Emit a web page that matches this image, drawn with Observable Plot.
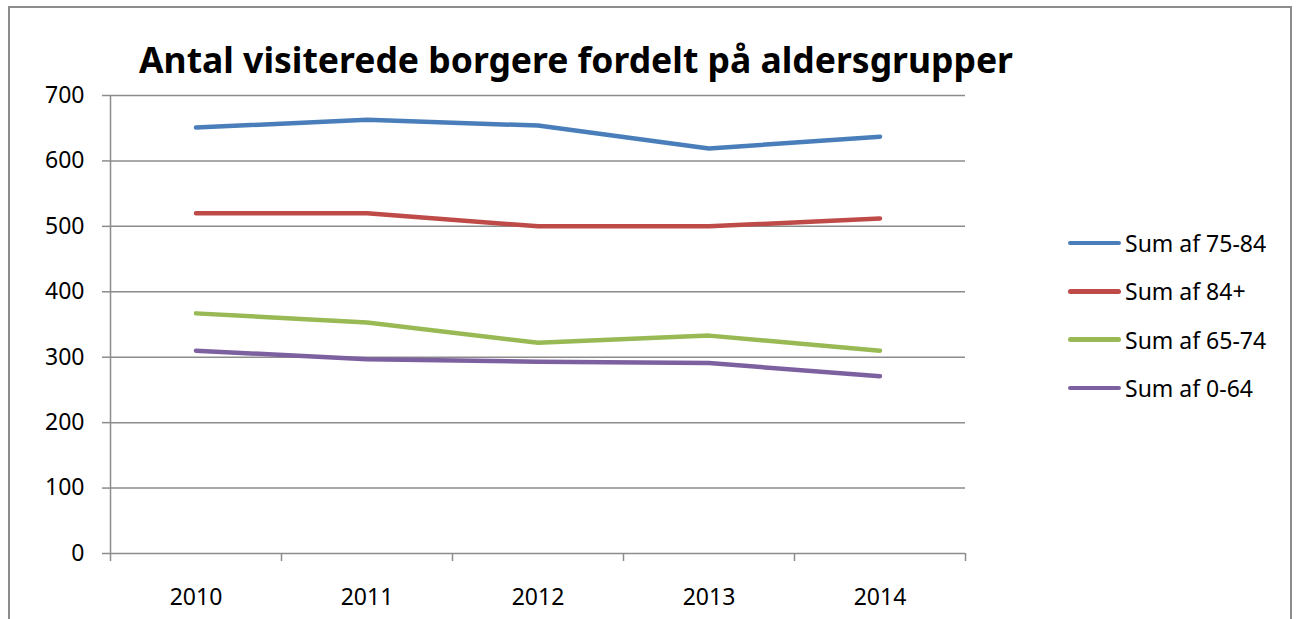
<!DOCTYPE html>
<html><head><meta charset="utf-8">
<script src="https://cdn.jsdelivr.net/npm/d3@7"></script>
<script src="https://cdn.jsdelivr.net/npm/@observablehq/plot@0.6"></script>
<style>
html,body{margin:0;padding:0;background:#fff;}
#wrap{position:relative;width:1302px;height:619px;overflow:hidden;font-family:"Noto Sans",sans-serif;}
#frame{position:absolute;left:8px;top:6px;width:1284px;height:640px;border:2px solid #8c8c8c;box-sizing:border-box;pointer-events:none;}
#title{position:absolute;left:139px;top:41.5px;font-size:35.5px;font-weight:bold;color:#000;white-space:nowrap;line-height:1;}
#legend{position:absolute;left:1068px;top:219px;font-size:23px;color:#000;}
.li{display:flex;align-items:center;height:48.3px;}
.sw{width:53px;height:4.5px;border-radius:2.5px;margin-right:4px;}
#chart{position:absolute;left:0;top:0;}
</style></head>
<body><div id="wrap"><div id="chart"></div><div id="title">Antal visiterede borgere fordelt på aldersgrupper</div><div id="legend"></div><div id="frame"></div></div>
<script>
const years = [2010, 2011, 2012, 2013, 2014];
const seriesNames = ["Sum af 75-84", "Sum af 84+", "Sum af 65-74", "Sum af 0-64"];
const colors = ["#4a7ebb", "#be4b48", "#98b954", "#7d60a0"];
const v7584 = [651, 663, 654, 619, 637];
const v84 = [520, 520, 500, 500, 512];
const v6574 = [367, 353, 322, 333, 310];
const v064 = [310, 297, 293, 291, 271];
const yTicks = [0, 100, 200, 300, 400, 500, 600, 700];

const allValues = [v7584, v84, v6574, v064];
const data = [];
seriesNames.forEach((s, i) => years.forEach((yr, j) => data.push({series: s, year: yr, value: allValues[i][j]})));
const bounds = years.map(y => y - 0.5).concat([years[years.length - 1] + 0.5]);

const chart = Plot.plot({
  width: 1302, height: 619,
  marginLeft: 110, marginRight: 337, marginTop: 95, marginBottom: 66,
  style: {fontFamily: '"Noto Sans", sans-serif', fontSize: "23px", color: "#000", background: "transparent"},
  x: {domain: [bounds[0], bounds[bounds.length - 1]]},
  y: {domain: [0, 700]},
  color: {domain: seriesNames, range: colors},
  marks: [
    Plot.ruleY(yTicks, {stroke: "#8c8c8c", strokeWidth: 1.5}),
    Plot.ruleX([bounds[0]], {stroke: "#8c8c8c", strokeWidth: 1.5}),
    Plot.axisY({ticks: yTicks, tickSize: 8, tickPadding: 18, stroke: "#8c8c8c", strokeWidth: 1.5, label: null, fill: "#000", fontSize: 23}),
    Plot.axisX({ticks: bounds, tickSize: 8, tickFormat: () => "", stroke: "#8c8c8c", strokeWidth: 1.5, label: null}),
    Plot.axisX({ticks: years, tickSize: 0, tickPadding: 35, tickFormat: d => String(d), label: null, fill: "#000", fontSize: 23}),
    Plot.line(data, {x: "year", y: "value", z: "series", stroke: "series", strokeWidth: 4.5, strokeLinecap: "round", strokeLinejoin: "round"})
  ]
});
document.getElementById("chart").appendChild(chart);

const leg = document.getElementById("legend");
seriesNames.forEach((s, i) => {
  const d = document.createElement("div"); d.className = "li";
  d.innerHTML = `<div class="sw" style="background:${colors[i]}"></div><span>${s}</span>`;
  leg.appendChild(d);
});
</script></body></html>
